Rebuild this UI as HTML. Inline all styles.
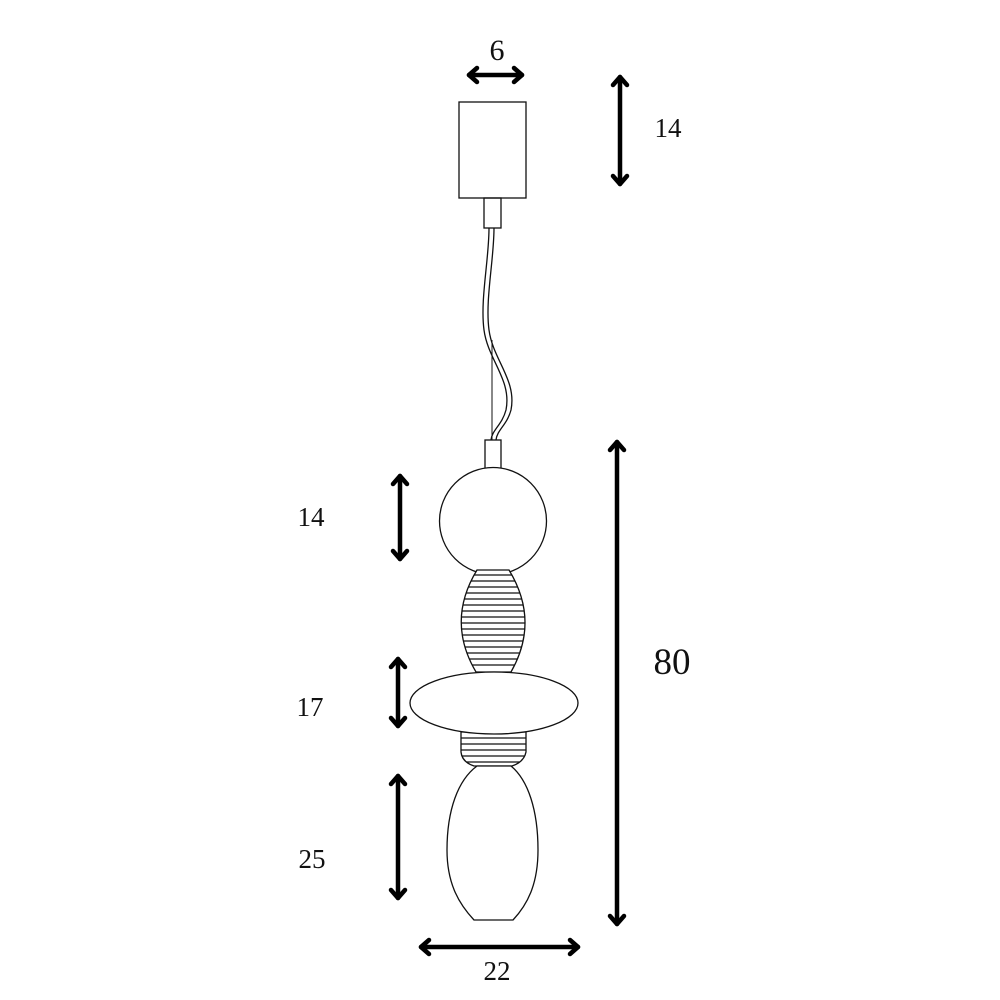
<!DOCTYPE html>
<html><head><meta charset="utf-8"><style>
html,body{margin:0;padding:0;background:#fff;}
svg{display:block;}
text{font-family:"Liberation Serif",serif;fill:#111;}
</style></head><body>
<svg width="1000" height="1000" viewBox="0 0 1000 1000" xmlns="http://www.w3.org/2000/svg">
<defs>
<clipPath id="rib1"><path d="M477,570 L509,570 Q540,621 511,672 L476,672 Q446,621 477,570 Z"/></clipPath>
<clipPath id="rib2"><path d="M461,732 L526,732 L526,752 Q524,762 512,766 L474,766 Q462,762 461,752 Z"/></clipPath>
</defs>
<g fill="none" stroke="#111" stroke-width="1.3">
<rect x="459" y="102" width="67" height="96" fill="#fff"/>
<rect x="484" y="198" width="17" height="30"/>
<path d="M489,228 C489,260 480,300 484,330 C488,360 512,380 506,410 C502,425 492,430 491,440"/>
<path d="M494,228 C494,260 485,300 489,330 C493,360 517,380 511,410 C507,425 497,430 496,440"/>
<line x1="492" y1="340" x2="492" y2="440" stroke-width="1"/>
<rect x="485" y="440" width="16" height="31"/>
<circle cx="493" cy="521" r="53.5" fill="#fff"/>
<path d="M477,570 L509,570 Q540,621 511,672 L476,672 Q446,621 477,570 Z" fill="#fff"/>
<g clip-path="url(#rib1)" stroke-width="1.2">
<line x1="440" y1="575" x2="550" y2="575"/><line x1="440" y1="581" x2="550" y2="581"/>
<line x1="440" y1="587" x2="550" y2="587"/><line x1="440" y1="593" x2="550" y2="593"/>
<line x1="440" y1="599" x2="550" y2="599"/><line x1="440" y1="605" x2="550" y2="605"/>
<line x1="440" y1="611" x2="550" y2="611"/><line x1="440" y1="617" x2="550" y2="617"/>
<line x1="440" y1="623" x2="550" y2="623"/><line x1="440" y1="629" x2="550" y2="629"/>
<line x1="440" y1="635" x2="550" y2="635"/><line x1="440" y1="641" x2="550" y2="641"/>
<line x1="440" y1="647" x2="550" y2="647"/><line x1="440" y1="653" x2="550" y2="653"/>
<line x1="440" y1="659" x2="550" y2="659"/><line x1="440" y1="665" x2="550" y2="665"/>
</g>
<path d="M461,732 L526,732 L526,752 Q524,762 512,766 L474,766 Q462,762 461,752 Z" fill="#fff"/>
<g clip-path="url(#rib2)" stroke-width="1.2">
<line x1="455" y1="738" x2="530" y2="738"/><line x1="455" y1="744" x2="530" y2="744"/>
<line x1="455" y1="750" x2="530" y2="750"/><line x1="455" y1="756" x2="530" y2="756"/>
<line x1="455" y1="762" x2="530" y2="762"/>
</g>
<ellipse cx="494" cy="703" rx="84" ry="31" fill="#fff"/>
<path d="M477,766 L511,766 C528,780 538,810 538,850 C538,885 527,905 513,920 L474,920 C460,905 447,885 447,850 C447,810 458,780 477,766 Z" fill="#fff"/>
</g>
<g fill="none" stroke="#000" stroke-width="4.5" stroke-linecap="round" stroke-linejoin="round">
<line x1="469" y1="75" x2="522" y2="75"/><polyline points="477,68 469,75 477,82"/><polyline points="514,68 522,75 514,82"/>
<line x1="620" y1="77" x2="620" y2="184"/><polyline points="613,85 620,77 627,85"/><polyline points="613,176 620,184 627,176"/>
<line x1="400" y1="476" x2="400" y2="559"/><polyline points="393,484 400,476 407,484"/><polyline points="393,551 400,559 407,551"/>
<line x1="398" y1="659" x2="398" y2="726"/><polyline points="391,667 398,659 405,667"/><polyline points="391,718 398,726 405,718"/>
<line x1="398" y1="776" x2="398" y2="898"/><polyline points="391,784 398,776 405,784"/><polyline points="391,890 398,898 405,890"/>
<line x1="617" y1="442" x2="617" y2="924"/><polyline points="610,450 617,442 624,450"/><polyline points="610,916 617,924 624,916"/>
<line x1="421" y1="947" x2="578" y2="947"/><polyline points="429,940 421,947 429,954"/><polyline points="570,940 578,947 570,954"/>
</g>
<text x="497" y="60" font-size="30" text-anchor="middle">6</text>
<text x="668" y="137" font-size="27" text-anchor="middle">14</text>
<text x="311" y="526" font-size="27" text-anchor="middle">14</text>
<text x="310" y="716" font-size="27" text-anchor="middle">17</text>
<text x="312" y="868" font-size="27" text-anchor="middle">25</text>
<text x="672" y="674" font-size="37" text-anchor="middle">80</text>
<text x="497" y="980" font-size="27" text-anchor="middle">22</text>
</svg>
</body></html>
